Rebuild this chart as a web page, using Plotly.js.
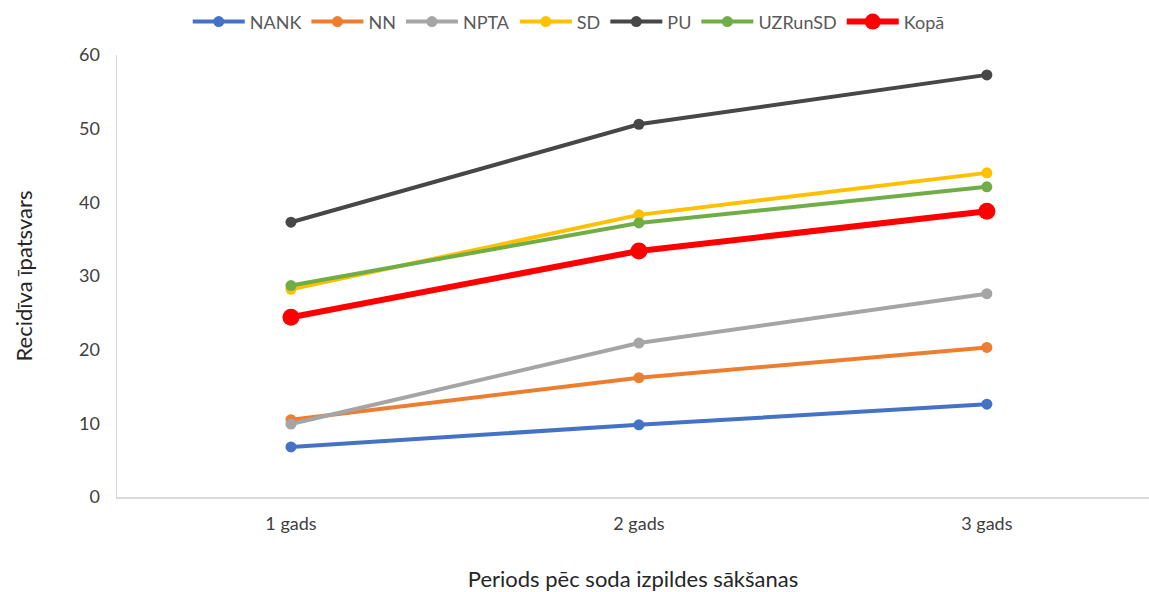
<!DOCTYPE html>
<html>
<head>
<meta charset="utf-8">
<script src="https://cdn.plot.ly/plotly-3.0.1.min.js"></script>
<style>html,body{margin:0;padding:0;background:#fff;}#chart{width:1149px;height:592px;}</style>
</head>
<body>
<div id="chart"></div>
<script>
const categories = ["1 gads", "2 gads", "3 gads"];
const seriesNames = ["NANK", "NN", "NPTA", "SD", "PU", "UZRunSD", "Kopā"];
const NANK = [6.8, 9.8, 12.6];
const NN = [10.5, 16.2, 20.3];
const NPTA = [9.9, 20.9, 27.6];
const SD = [28.2, 38.3, 44.0];
const PU = [37.3, 50.6, 57.3];
const UZRunSD = [28.7, 37.2, 42.1];
const Kopa = [24.4, 33.4, 38.8];
const yTicks = [0, 10, 20, 30, 40, 50, 60];

const values = [NANK, NN, NPTA, SD, PU, UZRunSD, Kopa];
const colors = ["#4472C4", "#ED7D31", "#A5A5A5", "#FFC000", "#474747", "#70AD47", "#FF0000"];

const traces = seriesNames.map((name, i) => {
  const big = name === "Kopā";
  return {
    type: "scatter",
    mode: "lines+markers",
    name: name,
    x: categories,
    y: values[i],
    line: {color: colors[i], width: big ? 6 : 4},
    marker: {color: colors[i], size: big ? 17 : 11},
    cliponaxis: false
  };
});

const font = "Lato, 'Open Sans', 'Liberation Sans', sans-serif";
const layout = {
  width: 1149, height: 592,
  margin: {l: 117, r: 0, t: 55, b: 95},
  paper_bgcolor: "#fff", plot_bgcolor: "#fff",
  font: {family: font, color: "#595959", size: 18},
  showlegend: true,
  legend: {
    orientation: "h", xref: "container", yref: "container",
    x: 0.495, xanchor: "center", y: 0.963, yanchor: "middle",
    font: {family: font, size: 18, color: "#595959"},
    itemwidth: 52, tracegroupgap: 0
  },
  xaxis: {
    type: "category",
    range: [-0.5, 2.466],
    showgrid: false, zeroline: false,
    showline: true, linecolor: "#d9d9d9", linewidth: 1.5,
    ticks: "", ticklen: 0, ticklabelstandoff: 10,
    automargin: false,
    tickfont: {family: font, size: 18, color: "#404040"},
    title: {text: "Periods pēc soda izpildes sākšanas", font: {family: font, size: 22, color: "#262626"}, standoff: 38}
  },
  yaxis: {
    range: [0, 60],
    tickvals: yTicks,
    showgrid: false, zeroline: false,
    showline: true, linecolor: "#d9d9d9", linewidth: 1.5,
    ticks: "", ticklen: 0, ticklabelstandoff: 12,
    automargin: false,
    tickfont: {family: font, size: 18, color: "#404040"},
    title: {text: "Recidīva īpatsvars", font: {family: font, size: 22, color: "#262626"}, standoff: 40}
  }
};

Plotly.newPlot("chart", traces, layout, {displayModeBar: false, staticPlot: true});
</script>
</body>
</html>
